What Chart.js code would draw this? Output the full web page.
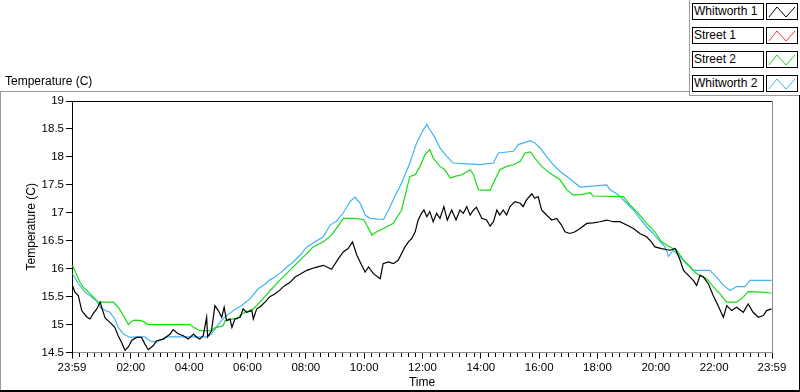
<!DOCTYPE html>
<html>
<head>
<meta charset="utf-8">
<script src="https://cdn.jsdelivr.net/npm/chart.js@4/dist/chart.umd.min.js"></script>
<style>
  html, body { margin:0; padding:0; background:#fff; }
  #wrap { position:relative; width:800px; height:392px; overflow:hidden; background:#fff; }
  #c { position:absolute; left:0; top:0; }
  .ln { position:absolute; }
  .lbl { position:absolute; font-family:"Liberation Sans", Arial, sans-serif; font-size:12px; color:#000; white-space:nowrap; }
  .lgtext { position:absolute; left:692px; width:69px; height:15px; border:1px solid #000; background:#fff;
            font-family:"Liberation Sans", Arial, sans-serif; font-size:12px; line-height:15px; padding-left:1px; box-sizing:content-box; }
  .lgsw { position:absolute; left:766px; width:30px; height:15px; border:1px solid #000; background:#fff; }
</style>
</head>
<body>
<div id="wrap">
  <canvas id="c" width="800" height="392"></canvas>
  <div class="lbl" style="left:5px; top:74px;">Temperature (C)</div>
  <div class="ln" style="left:0; top:91px; width:690px; height:1px; background:#9a9a9a;"></div>
  <div class="ln" style="left:0; top:91px; width:1px; height:301px; background:#9a9a9a;"></div>
  <div class="ln" style="left:689px; top:0; width:1px; height:96px; background:#9a9a9a;"></div>
  <div class="ln" style="left:689px; top:95px; width:111px; height:1px; background:#9a9a9a;"></div>
  <div class="ln" style="left:799px; top:95px; width:1px; height:297px; background:#000;"></div>
  <div class="ln" style="left:0; top:390px; width:800px; height:2px; background:#000;"></div>
  <div id="legend"></div>
</div>
<script>
// ---- data (minutes after 23:59, temperature in C) ----
const seriesNames = ['Whitworth 1', 'Street 1', 'Street 2', 'Whitworth 2'];
const seriesColors = ['#000000', '#ff3030', '#12dc12', '#3cb4f0'];

const tickMinutes = [0, 121, 241, 361, 481, 601, 721, 841, 961, 1081, 1201, 1321, 1440];
const tickLabels = ['23:59', '02:00', '04:00', '06:00', '08:00', '10:00', '12:00', '14:00', '16:00', '18:00', '20:00', '22:00', '23:59'];

const yTicksMin = 14.5;
const yTicksMax = 19;
const yStep = 0.5;

const whitworth1Minutes = [1, 6, 13, 20, 30, 37, 44, 51, 58, 61, 68, 78, 88, 95, 102, 109, 116, 123, 133, 143, 150, 157, 167, 174, 188, 202, 208, 219, 229, 239, 250, 257, 263, 270, 277, 279, 287, 294, 301, 308, 313, 318, 325, 329, 335, 346, 352, 359, 370, 373, 380, 387, 397, 407, 418, 428, 438, 448, 459, 469, 483, 500, 517, 534, 548, 558, 568, 577, 586, 596, 603, 610, 620, 634, 640, 651, 661, 671, 678, 685, 692, 699, 706, 712, 719, 724, 730, 736, 743, 750, 757, 765, 772, 781, 790, 798, 805, 812, 819, 826, 832, 843, 853, 860, 867, 874, 880, 887, 894, 901, 911, 922, 928, 935, 946, 952, 959, 966, 976, 987, 997, 1007, 1014, 1024, 1035, 1045, 1059, 1072, 1086, 1100, 1113, 1127, 1141, 1155, 1168, 1182, 1192, 1199, 1213, 1230, 1241, 1251, 1258, 1268, 1278, 1285, 1292, 1299, 1309, 1319, 1329, 1340, 1347, 1357, 1367, 1381, 1391, 1401, 1412, 1422, 1429, 1439];
const whitworth1Temps = [15.70, 15.58, 15.52, 15.25, 15.14, 15.10, 15.20, 15.28, 15.40, 15.31, 15.12, 15.04, 14.95, 14.80, 14.68, 14.54, 14.60, 14.72, 14.77, 14.77, 14.65, 14.55, 14.62, 14.71, 14.74, 14.83, 14.91, 14.83, 14.80, 14.74, 14.83, 14.77, 14.74, 14.80, 15.13, 14.78, 14.89, 15.34, 15.25, 15.13, 15.31, 15.07, 15.10, 14.95, 15.10, 15.13, 15.28, 15.22, 15.25, 15.10, 15.28, 15.32, 15.40, 15.50, 15.55, 15.62, 15.70, 15.75, 15.85, 15.90, 15.97, 16.02, 16.06, 15.99, 16.18, 16.30, 16.36, 16.48, 16.24, 16.06, 15.94, 16.03, 15.91, 15.82, 16.09, 16.12, 16.09, 16.15, 16.27, 16.39, 16.48, 16.54, 16.66, 16.87, 16.99, 17.05, 16.93, 17.02, 16.84, 16.99, 16.90, 17.11, 16.87, 17.05, 16.87, 17.05, 16.99, 17.11, 16.96, 17.05, 17.10, 16.90, 16.87, 16.76, 16.84, 17.05, 16.96, 17.05, 16.96, 17.11, 17.20, 17.17, 17.11, 17.23, 17.34, 17.26, 17.29, 17.05, 16.96, 16.87, 16.90, 16.78, 16.66, 16.63, 16.66, 16.72, 16.81, 16.82, 16.84, 16.87, 16.84, 16.84, 16.78, 16.72, 16.63, 16.57, 16.48, 16.39, 16.36, 16.33, 16.36, 16.15, 15.97, 15.88, 15.79, 15.70, 15.88, 15.85, 15.73, 15.52, 15.34, 15.13, 15.34, 15.25, 15.31, 15.22, 15.37, 15.22, 15.13, 15.16, 15.25, 15.28];

const street1Minutes = [];
const street1Temps = [];

const street2Minutes = [1, 10, 16, 23, 34, 44, 54, 85, 95, 106, 116, 123, 130, 143, 157, 243, 250, 263, 287, 294, 311, 315, 332, 339, 349, 373, 383, 397, 407, 418, 428, 438, 448, 462, 483, 496, 517, 534, 544, 558, 579, 600, 610, 617, 627, 641, 661, 678, 695, 706, 716, 726, 736, 743, 757, 767, 778, 788, 802, 819, 826, 836, 860, 870, 880, 894, 908, 922, 932, 943, 952, 966, 983, 1004, 1018, 1031, 1045, 1066, 1072, 1134, 1148, 1165, 1182, 1199, 1213, 1227, 1244, 1258, 1272, 1285, 1306, 1319, 1333, 1347, 1367, 1381, 1391, 1419, 1439];
const street2Temps = [16.06, 15.88, 15.76, 15.67, 15.58, 15.49, 15.40, 15.40, 15.31, 15.16, 15.00, 15.06, 15.08, 15.07, 15.00, 15.00, 14.95, 14.89, 14.89, 14.94, 14.98, 15.07, 15.10, 15.10, 15.19, 15.28, 15.37, 15.50, 15.60, 15.70, 15.80, 15.88, 15.97, 16.09, 16.27, 16.39, 16.48, 16.60, 16.72, 16.90, 16.90, 16.88, 16.72, 16.60, 16.66, 16.72, 16.81, 17.05, 17.65, 17.68, 17.83, 18.04, 18.13, 17.98, 17.83, 17.77, 17.62, 17.65, 17.68, 17.77, 17.68, 17.41, 17.40, 17.59, 17.77, 17.83, 17.86, 17.92, 18.07, 18.09, 17.98, 17.83, 17.71, 17.59, 17.41, 17.32, 17.32, 17.36, 17.30, 17.29, 17.14, 16.99, 16.81, 16.66, 16.48, 16.40, 16.33, 16.15, 16.03, 15.91, 15.82, 15.68, 15.55, 15.40, 15.40, 15.49, 15.59, 15.58, 15.56];

const whitworth2Minutes = [1, 13, 27, 41, 51, 58, 68, 78, 88, 95, 106, 119, 133, 150, 160, 174, 185, 195, 277, 287, 294, 304, 318, 332, 349, 366, 383, 397, 407, 418, 428, 442, 455, 469, 483, 500, 517, 531, 544, 558, 572, 582, 593, 603, 613, 641, 651, 664, 678, 695, 709, 721, 730, 736, 747, 757, 771, 784, 805, 839, 867, 877, 908, 918, 932, 942, 952, 963, 976, 990, 1004, 1018, 1031, 1045, 1100, 1106, 1124, 1141, 1155, 1168, 1182, 1196, 1210, 1220, 1227, 1237, 1251, 1264, 1278, 1312, 1326, 1340, 1354, 1367, 1384, 1395, 1439];
const whitworth2Temps = [15.91, 15.73, 15.58, 15.49, 15.42, 15.31, 15.25, 15.22, 15.10, 14.95, 14.83, 14.77, 14.78, 14.78, 14.71, 14.68, 14.74, 14.78, 14.78, 14.83, 14.92, 15.04, 15.16, 15.25, 15.34, 15.46, 15.64, 15.72, 15.80, 15.85, 15.92, 16.03, 16.12, 16.24, 16.39, 16.48, 16.57, 16.78, 16.85, 17.00, 17.20, 17.28, 17.17, 16.96, 16.90, 16.88, 17.05, 17.29, 17.53, 17.89, 18.25, 18.46, 18.58, 18.49, 18.34, 18.16, 18.01, 17.89, 17.88, 17.86, 17.89, 18.07, 18.10, 18.22, 18.26, 18.29, 18.25, 18.16, 18.01, 17.86, 17.74, 17.65, 17.56, 17.46, 17.50, 17.42, 17.32, 17.17, 17.05, 16.90, 16.75, 16.63, 16.48, 16.39, 16.22, 16.33, 16.21, 16.09, 15.97, 15.97, 15.85, 15.70, 15.61, 15.68, 15.68, 15.79, 15.79];

// ---- build ----
const allMinutes = [whitworth1Minutes, street1Minutes, street2Minutes, whitworth2Minutes];
const allTemps = [whitworth1Temps, street1Temps, street2Temps, whitworth2Temps];

const datasets = seriesNames.map((name, i) => ({
  label: name,
  data: allMinutes[i].map((m, j) => ({ x: m, y: allTemps[i][j] })),
  borderColor: seriesColors[i],
  backgroundColor: seriesColors[i],
  borderWidth: 1.2,
  pointRadius: 0,
  tension: 0,
  fill: false
}));

// legend (HTML)
const legend = document.getElementById('legend');
seriesNames.forEach((name, i) => {
  const top = 3 + i * 24;
  const t = document.createElement('div');
  t.className = 'lgtext';
  t.style.top = top + 'px';
  t.textContent = name;
  legend.appendChild(t);
  const s = document.createElement('div');
  s.className = 'lgsw';
  s.style.top = top + 'px';
  s.innerHTML = '<svg width="30" height="15" style="display:block"><polyline points="2,13 10,3 19,13 28,3" fill="none" stroke="' + seriesColors[i] + '" stroke-width="1"/></svg>';
  legend.appendChild(s);
});

const FONT = '"Liberation Sans", Arial, sans-serif';

const framePlugin = {
  id: 'frame',
  afterDraw(chart) {
    const { ctx, chartArea } = chart;
    const xs = chart.scales.x;
    ctx.save();
    ctx.lineWidth = 1;
    ctx.strokeStyle = '#000';
    ctx.beginPath();
    ctx.moveTo(chartArea.left, Math.round(chartArea.top) + 0.5);
    ctx.lineTo(chartArea.right, Math.round(chartArea.top) + 0.5);
    ctx.stroke();
    ctx.strokeStyle = '#8c8c8c';
    ctx.beginPath();
    ctx.moveTo(Math.round(chartArea.right) + 0.5, chartArea.top);
    ctx.lineTo(Math.round(chartArea.right) + 0.5, chartArea.bottom);
    ctx.stroke();
    ctx.strokeStyle = '#000';
    const yb = Math.round(chartArea.bottom);
    for (let i = 0; i < tickMinutes.length - 1; i++) {
      const a = tickMinutes[i], b = tickMinutes[i + 1];
      for (let k = 1; k < 8; k++) {
        const px = Math.round(xs.getPixelForValue(a + (b - a) * k / 8)) + 0.5;
        ctx.beginPath();
        ctx.moveTo(px, yb);
        ctx.lineTo(px, yb + 4);
        ctx.stroke();
      }
    }
    ctx.restore();
  }
};

new Chart(document.getElementById('c'), {
  type: 'line',
  data: { datasets },
  options: {
    responsive: false,
    devicePixelRatio: 1,
    animation: false,
    layout: { padding: { top: 101, right: 28, left: 0, bottom: 0 } },
    plugins: { legend: { display: false }, tooltip: { enabled: false } },
    scales: {
      x: {
        type: 'linear',
        min: 0,
        max: 1440,
        afterBuildTicks: (s) => { s.ticks = tickMinutes.map(v => ({ value: v })); },
        afterFit: (s) => { s.height = 39.5; },
        ticks: {
          autoSkip: false,
          maxRotation: 0,
          color: '#000',
          padding: 2,
          font: { family: FONT, size: 11.5 },
          callback: (v, i) => tickLabels[i]
        },
        grid: { drawOnChartArea: false, drawTicks: true, tickLength: 6, tickColor: '#000' },
        border: { display: true, color: '#8c8c8c' },
        title: { display: true, text: 'Time', color: '#000', font: { family: FONT, size: 12 }, padding: { top: 0, bottom: 2 } }
      },
      y: {
        type: 'linear',
        min: yTicksMin,
        max: yTicksMax,
        afterFit: (s) => { s.width = 72; },
        ticks: {
          stepSize: yStep,
          color: '#000',
          padding: 2,
          font: { family: FONT, size: 11.5 },
          callback: (v) => String(Math.round(v * 10) / 10)
        },
        grid: { drawOnChartArea: false, drawTicks: true, tickLength: 6, tickColor: '#000' },
        border: { display: true, color: '#000' },
        title: { display: true, text: 'Temperature (C)', color: '#000', font: { family: FONT, size: 12 }, padding: { top: 24, bottom: 0 } }
      }
    }
  },
  plugins: [framePlugin]
});
</script>
</body>
</html>
